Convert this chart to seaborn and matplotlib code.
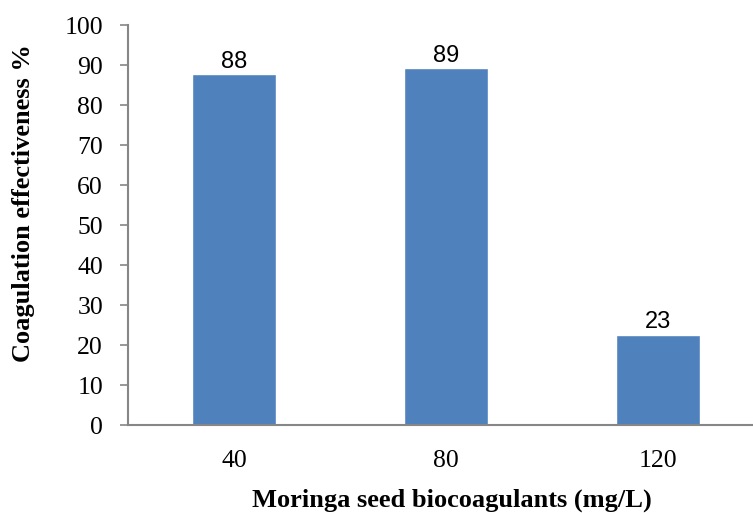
import matplotlib
matplotlib.use('Agg')
import matplotlib.pyplot as plt
import seaborn as sns
import pandas as pd

# Coagulation effectiveness by Moringa seed dose
doses = ['40', '80', '120']
effectiveness = [87.7, 89.3, 22.6]
bar_labels = ['88', '89', '23']

df = pd.DataFrame({'dose': doses, 'eff': effectiveness})

sns.set_style('white')
plt.rcParams['font.family'] = ['Liberation Serif', 'DejaVu Serif']
plt.rcParams['text.color'] = 'black'
plt.rcParams['axes.labelcolor'] = 'black'
plt.rcParams['xtick.color'] = 'black'
plt.rcParams['ytick.color'] = 'black'

fig = plt.figure(figsize=(7.53, 5.13), dpi=100)
ax = fig.add_axes([0.170, 0.1715, 0.830, 0.7797])

sns.barplot(x='dose', y='eff', data=df, color='#4F81BD', saturation=1,
            width=0.4, ax=ax)

for i, lab in enumerate(bar_labels):
    ax.text(i, effectiveness[i] + 0.3, lab, ha='center', va='bottom',
            fontsize=17, color='black', family=['Liberation Sans', 'DejaVu Sans'])

ax.set_ylim(0, 100)
ax.set_xlim(-0.5, 2.448)
ax.set_yticks(range(0, 101, 10))

for s in ['top', 'right']:
    ax.spines[s].set_visible(False)
for s in ['left', 'bottom']:
    ax.spines[s].set_color('#868686')
    ax.spines[s].set_linewidth(1.5)

ax.tick_params(axis='y', direction='out', length=6, width=1.2, color='#868686',
               labelcolor='black', labelsize=18.5, pad=12, left=True)
ax.tick_params(axis='x', length=0, labelsize=18.5, pad=18, labelcolor='black')

ax.set_xlabel('Moringa seed biocoagulants (mg/L)', fontsize=19, fontweight='bold')
ax.set_ylabel('Coagulation effectiveness %', fontsize=19, fontweight='bold')
ax.xaxis.set_label_coords(0.518, -0.16)
ax.yaxis.set_label_coords(-0.149, 0.555)

fig.savefig('out.png', dpi=100)
